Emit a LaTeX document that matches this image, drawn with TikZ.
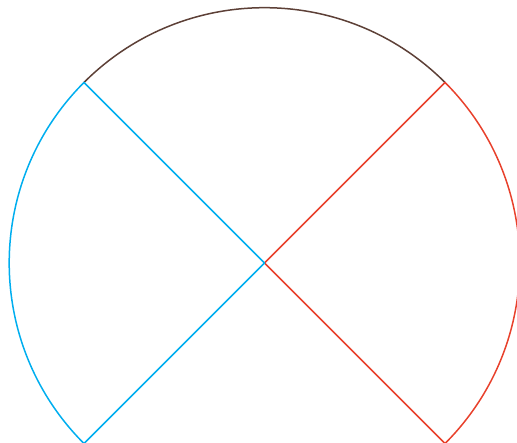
\documentclass[tikz,border=0pt]{standalone}
\definecolor{topbrown}{HTML}{5D4037}
\definecolor{sred}{HTML}{E8412C}
\definecolor{scyan}{HTML}{00AEEF}
\begin{document}
\begin{tikzpicture}[x=1pt,y=1pt,seg/.style={line width=1.5pt,line join=round}]
\useasboundingbox (0,0) rectangle (517,443);
\clip (0,0) rectangle (517,443);
\coordinate (c) at (264.5,180);
\draw[seg,topbrown] (c) ++(45:255.3) arc[start angle=45,end angle=135,radius=255.3];
\draw[seg,sred] (c) -- ++(45:255.3) arc[start angle=45,end angle=-45,radius=255.3] -- cycle;
\draw[seg,scyan] (c) -- ++(135:255.3) arc[start angle=135,end angle=225,radius=255.3] -- cycle;
\end{tikzpicture}
\end{document}
